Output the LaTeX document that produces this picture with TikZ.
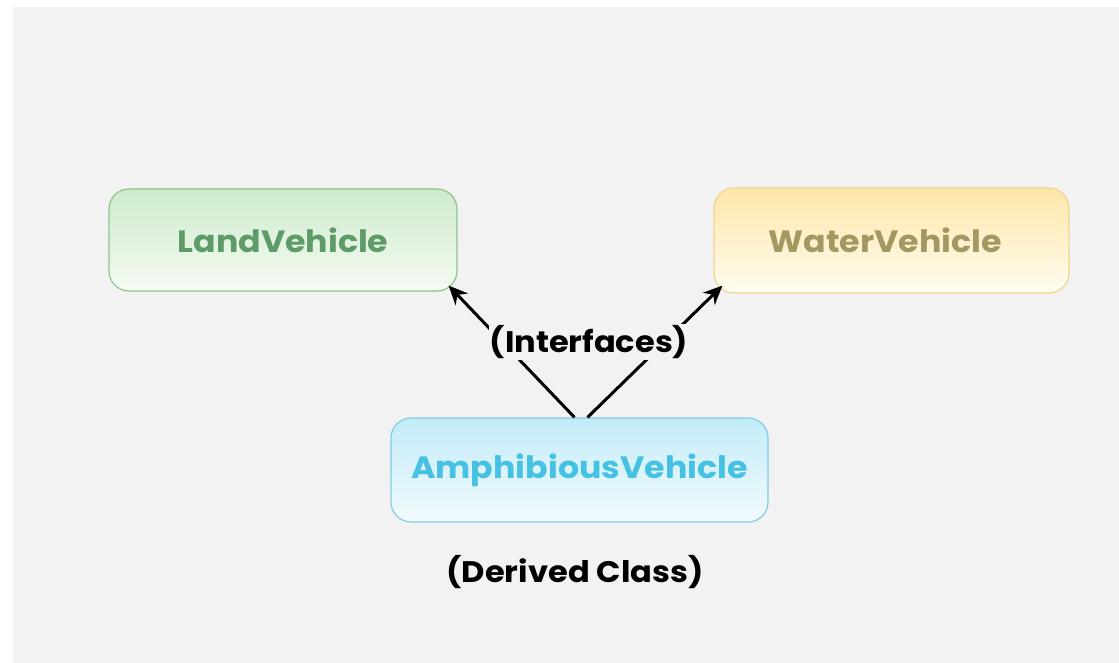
\documentclass[tikz,border=0pt]{standalone}
\usepackage{fontspec}
\setmainfont{Poppins}[FakeStretch=1.08]
\usetikzlibrary{arrows.meta}
\definecolor{bg}{HTML}{F2F2F2}
\definecolor{landtxt}{HTML}{5E9B68}
\definecolor{landtop}{HTML}{CDEBCB}
\definecolor{landbot}{HTML}{F5FBF3}
\definecolor{landedge}{HTML}{8FC38F}
\definecolor{watertxt}{HTML}{A39862}
\definecolor{watertop}{HTML}{FDE6A8}
\definecolor{waterbot}{HTML}{FFFCF0}
\definecolor{wateredge}{HTML}{EED590}
\definecolor{amphtxt}{HTML}{45C1E3}
\definecolor{amphtop}{HTML}{C3EBF8}
\definecolor{amphbot}{HTML}{F2FBFE}
\definecolor{amphedge}{HTML}{80CDE3}
\tikzset{
  classbox/.style={rounded corners=20pt, line width=1.2pt, inner sep=0pt,
    font=\fontsize{30.8}{36}\selectfont\bfseries, align=center},
  caption/.style={font=\fontsize{29.7}{34}\selectfont\bfseries, text=black},
  link/.style={line width=3pt, -{Stealth[length=19pt,width=17pt]}}
}
\begin{document}
\begin{tikzpicture}[x=1pt,y=-1pt]
  % canvas
  \fill[white] (0,0) rectangle (1119,663);
  \fill[bg] (13,7) rectangle (1119,663);
  \useasboundingbox (0,0) rectangle (1119,663);

  % classes
  \node[classbox, draw=landedge, top color=landtop, bottom color=landbot,
        text=landtxt, minimum width=348pt, minimum height=102pt]
        (land) at (283,240) {LandVehicle};
  \node[classbox, draw=wateredge, top color=watertop, bottom color=waterbot,
        text=watertxt, minimum width=355pt, minimum height=105pt]
        (water) at (891.5,240.5) {\hspace*{-12pt}WaterVehicle};
  \node[classbox, draw=amphedge, top color=amphtop, bottom color=amphbot,
        text=amphtxt, minimum width=377pt, minimum height=104pt]
        (amph) at (579.5,470) {AmphibiousVehicle};

  % inheritance links
  \draw[link] ([xshift=-5pt]amph.north) -- ([xshift=-9pt,yshift=6pt]land.south east);
  \draw[link] ([xshift=8pt]amph.north) -- ([xshift=9pt,yshift=8pt]water.south west);

  % labels
  \node[caption, fill=bg, inner sep=1pt] (iface) at (589,342) {(Interfaces)};
  \node[caption] (derived) at (575,572) {(Derived Class)};
\end{tikzpicture}
\end{document}
